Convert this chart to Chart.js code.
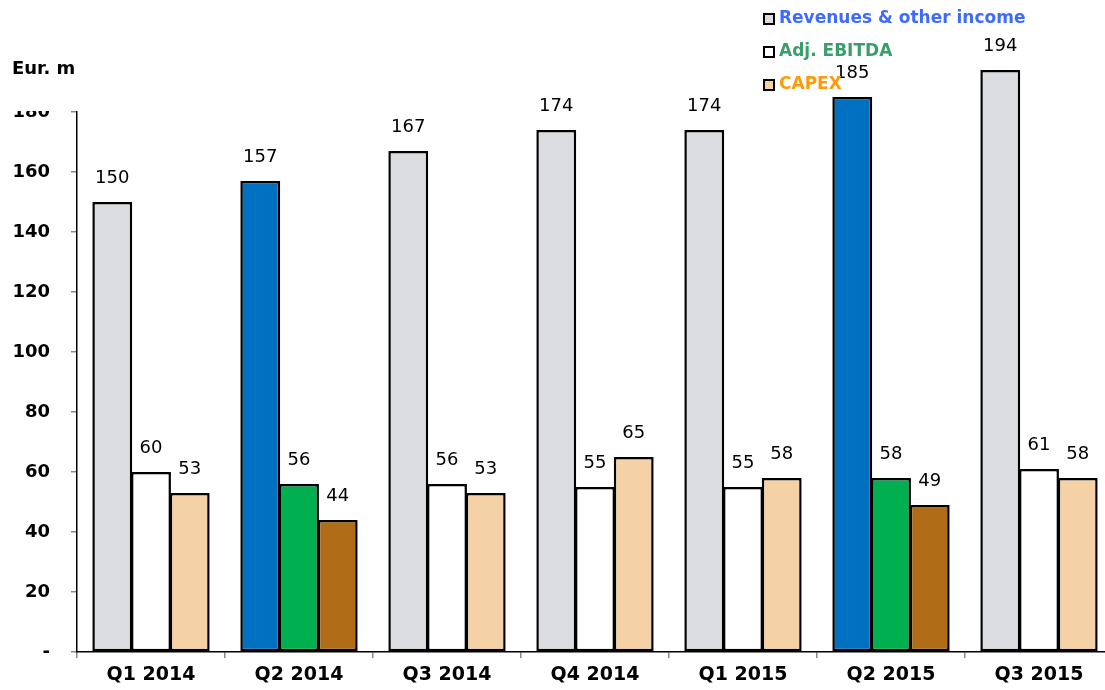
<!DOCTYPE html>
<html>
<head>
<meta charset="utf-8">
<script src="https://cdn.jsdelivr.net/npm/chart.js@4.4.0/dist/chart.umd.min.js"></script>
<style>
  html, body { margin: 0; padding: 0; background: #fff; overflow: hidden; }
  #wrap { width: 1105px; height: 690px; overflow: hidden; position: relative; }
  #chart { position: absolute; left: 0; top: 0; }
</style>
</head>
<body>
<div id="wrap"><canvas id="chart" width="1125" height="690"></canvas></div>
<script>
// chart data
const quarters = ['Q1 2014', 'Q2 2014', 'Q3 2014', 'Q4 2014', 'Q1 2015', 'Q2 2015', 'Q3 2015']
const revenues = [150, 157, 167, 174, 174, 185, 194]
const ebitda = [60, 56, 56, 55, 55, 58, 61]
const capex = [53, 44, 53, 65, 58, 49, 58]
const yTicks = [0, 20, 40, 60, 80, 100, 120, 140, 160, 180]
const highlighted = ['Q2 2014', 'Q2 2015']

// colors, normal / highlighted quarter
const revColors = ['#dcdde1', '#0070c0']
const ebitdaColors = ['#ffffff', '#00b050']
const capexColors = ['#f4d2a6', '#b06c17']

function fills(pair) {
    return quarters.map(q => highlighted.includes(q) ? pair[1] : pair[0])
}

const FONT = "'DejaVu Sans', Verdana, sans-serif"

// value labels above bars
const valueLabels = {
    id: 'valueLabels',
    afterDatasetsDraw(chart) {
        const ctx = chart.ctx
        ctx.save()
        ctx.font = '18px ' + FONT
        ctx.fillStyle = '#000'
        ctx.textAlign = 'center'
        ctx.textBaseline = 'middle'
        chart.data.datasets.forEach((ds, i) => {
            chart.getDatasetMeta(i).data.forEach((bar, j) => {
                ctx.fillText(ds.data[j], bar.x, bar.y - 24)
            })
        })
        ctx.restore()
    }
}

// axis title, clipped top tick, legend
const extras = {
    id: 'extras',
    afterDraw(chart) {
        const ctx = chart.ctx
        ctx.save()
        ctx.fillStyle = '#fff'
        ctx.fillRect(0, 88, 72, 23)

        ctx.fillStyle = '#000'
        ctx.font = 'bold 18px ' + FONT
        ctx.textAlign = 'left'
        ctx.textBaseline = 'middle'
        ctx.fillText('Eur. m', 12, 69)

        const legendColors = ['#3d6bff', '#3a9e6a', '#ff9a0a']
        const rows = [19, 52, 85]
        ctx.font = 'bold 17px ' + FONT
        chart.data.datasets.forEach((ds, i) => {
            const y = rows[i]
            ctx.fillStyle = ds.legendFill
            ctx.fillRect(764, y - 5, 10, 10)
            ctx.strokeStyle = '#000'
            ctx.lineWidth = 2
            ctx.strokeRect(764, y - 5, 10, 10)
            ctx.fillStyle = legendColors[i]
            ctx.fillText(ds.label, 779, y)
        })
        ctx.restore()
    }
}

function makeSet(label, data, pair) {
    return {
        label: label,
        data: data,
        backgroundColor: fills(pair),
        legendFill: pair[0],
        borderColor: '#000',
        borderWidth: 2.5,
        borderSkipped: false,
        clip: false
    }
}

new Chart(document.getElementById('chart'), {
    type: 'bar',
    data: {
        labels: quarters,
        datasets: [
            makeSet('Revenues & other income', revenues, revColors),
            makeSet('Adj. EBITDA', ebitda, ebitdaColors),
            makeSet('CAPEX', capex, capexColors)
        ]
    },
    options: {
        responsive: false,
        animation: false,
        events: [],
        layout: { padding: { top: 112, right: 12, left: 0, bottom: 0 } },
        plugins: { legend: { display: false }, tooltip: { enabled: false } },
        datasets: { bar: { categoryPercentage: 0.785, barPercentage: 1.03 } },
        scales: {
            x: {
                grid: { display: true, drawOnChartArea: false, offset: true, tickLength: 6, color: '#888', lineWidth: 1.5 },
                border: { color: '#000', width: 1.5 },
                ticks: { color: '#000', font: { family: FONT, size: 19, weight: 'bold' }, padding: 6, maxRotation: 0 },
                afterFit(axis) { axis.height = 38 }
            },
            y: {
                min: 0,
                max: 180,
                afterBuildTicks(axis) { axis.ticks = yTicks.map(v => ({ value: v })) },
                grid: { display: true, drawOnChartArea: false, tickLength: 6, color: '#888', lineWidth: 1.5 },
                border: { color: '#000', width: 1.5 },
                ticks: {
                    color: '#000',
                    font: { family: FONT, size: 18, weight: 'bold' },
                    padding: 21,
                    callback: v => v === 0 ? '-' : v
                },
                afterFit(axis) { axis.width = 77 }
            }
        }
    },
    plugins: [valueLabels, extras]
})
</script>
</body>
</html>
